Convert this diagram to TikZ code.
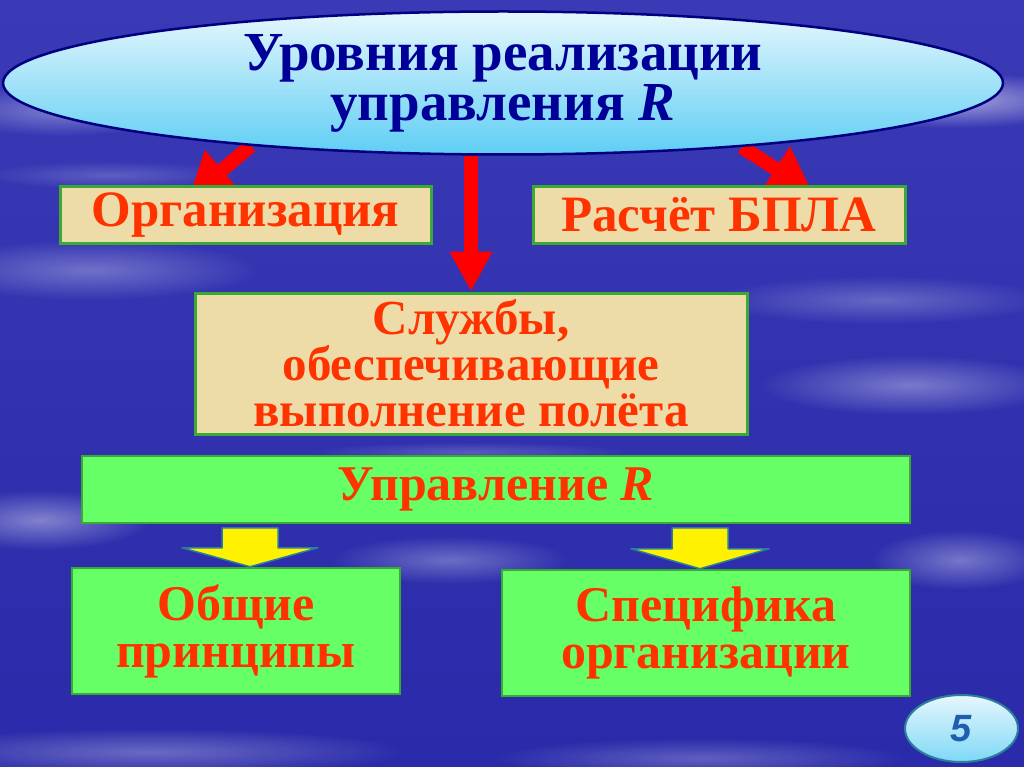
\documentclass[tikz,border=0pt]{standalone}
\usepackage{fontspec}
\setmainfont{Liberation Serif}
\newfontfamily\numfont{Liberation Sans}
\usetikzlibrary{arrows.meta,positioning,shapes.geometric,fadings}

\definecolor{skytop}{HTML}{3A3AB6}
\definecolor{skybottom}{HTML}{2A2AAA}
\definecolor{navyline}{HTML}{000080}
\definecolor{navytext}{HTML}{000099}
\definecolor{ovaltop}{HTML}{E6F7FD}
\definecolor{ovalbottom}{HTML}{5FCEF4}
\definecolor{boxgreen}{HTML}{3BAA34}
\definecolor{papyrus}{HTML}{EEDCA8}
\definecolor{lightgreen}{HTML}{66FF66}
\definecolor{orangered}{HTML}{FF3300}
\definecolor{tealline}{HTML}{2A7F9A}
\definecolor{numblue}{HTML}{1F5FAF}

\tikzfading[name=hazefade, inner color=transparent!0, outer color=transparent!100]

\pgfdeclarelayer{back}
\pgfdeclarelayer{links}
\pgfsetlayers{back,links,main}

\begin{document}
\begin{tikzpicture}[
    x=1pt, y=-1pt,
    titleoval/.style={ellipse, draw=navyline, line width=2.5pt, top color=ovaltop, bottom color=ovalbottom, inner sep=0pt, minimum width=1000pt, minimum height=143pt, align=center, text=navytext, font=\fontsize{55}{50}\selectfont\bfseries},
    papyrusbox/.style={rectangle, draw=boxgreen, line width=3pt, fill=papyrus, inner sep=0pt, align=center, text=orangered, font=\fontsize{51}{44}\selectfont\bfseries},
    greenbox/.style={papyrusbox, fill=lightgreen, line width=2.5pt, font=\fontsize{50}{47}\selectfont\bfseries},
    numoval/.style={ellipse, draw=tealline, line width=2pt, top color=ovaltop, bottom color=ovalbottom!80, inner sep=0pt, minimum width=113pt, minimum height=67pt, text=numblue, font=\numfont\fontsize{38}{38}\selectfont\bfseries\itshape},
    redarrow/.style={draw=red, line width=14pt, -{Triangle[length=40pt, width=40pt]}},
    slantarrow/.style={redarrow, -{Triangle[length=44pt, width=50pt]}},
    blockarrow/.style={draw=tealline, line width=1.5pt, fill=yellow, line join=round},
    haze/.style={fill=white, fill opacity=#1, path fading=hazefade}
]
\useasboundingbox (0,0) rectangle (1024,767);

% sky
\begin{pgfonlayer}{back}
\shade[top color=skytop, bottom color=skybottom] (0,0) rectangle (1024,767);
\foreach \cx/\cy/\rx/\ry/\op in {950/100/150/28/0.55, 60/110/120/26/0.35, 110/175/130/14/0.2,
    90/270/170/30/0.3, 880/300/170/24/0.25, 910/385/150/30/0.35, 470/452/160/10/0.2,
    40/520/110/30/0.4, 450/560/120/24/0.3, 960/560/90/30/0.35, 150/752/260/24/0.3, 700/758/210/20/0.25}
  \fill[haze=\op] (\cx,\cy) ellipse [x radius=\rx, y radius=\ry];
\end{pgfonlayer}

% boxes
\node[titleoval] (title) at (503,83) {Уровния реализации\\управления \textit{R}};
\node[papyrusbox, minimum width=371pt, minimum height=56pt] (org) at (245.5,215) {Организация};
\node[papyrusbox, minimum width=372pt, minimum height=56pt] (calc) at (719,215) {Расчёт БПЛА};
\node[papyrusbox, minimum width=552pt, minimum height=141pt, font=\fontsize{49}{46}\selectfont\bfseries] (services) at (471,363.5) {Службы,\\обеспечивающие\\выполнение полёта};
\node[greenbox, minimum width=828pt, minimum height=67pt] (control) at (496,489.5) {Управление \textit{R}};
\node[greenbox, minimum width=328pt, minimum height=126pt] (general) at (236,631) {Общие\\принципы};
\node[greenbox, minimum width=408pt, minimum height=126pt] (specific) at (706,633) {Специфика\\организации};
\node[numoval] (page) at (961.5,728.5) {5};

% links
\begin{pgfonlayer}{links}
\draw[slantarrow] (title.194) -- ([xshift=130pt, yshift=-13pt]org.north west);
\draw[slantarrow] (title.345) -- ([xshift=281pt, yshift=-7pt]calc.north west);
\draw[redarrow] (services.north |- title.south) -- (services.north);
\end{pgfonlayer}

\draw[blockarrow] ([xshift=14pt]general.north) -- ++(68,-19) -- ++(-40,0) -- ++(0,-20) -- ++(-56,0)
  -- ++(0,20) -- ++(-40,0) -- cycle;
\draw[blockarrow] ([xshift=-6pt]specific.north) -- ++(69,-20) -- ++(-41,0) -- ++(0,-21) -- ++(-56,0)
  -- ++(0,21) -- ++(-41,0) -- cycle;
\end{tikzpicture}
\end{document}
